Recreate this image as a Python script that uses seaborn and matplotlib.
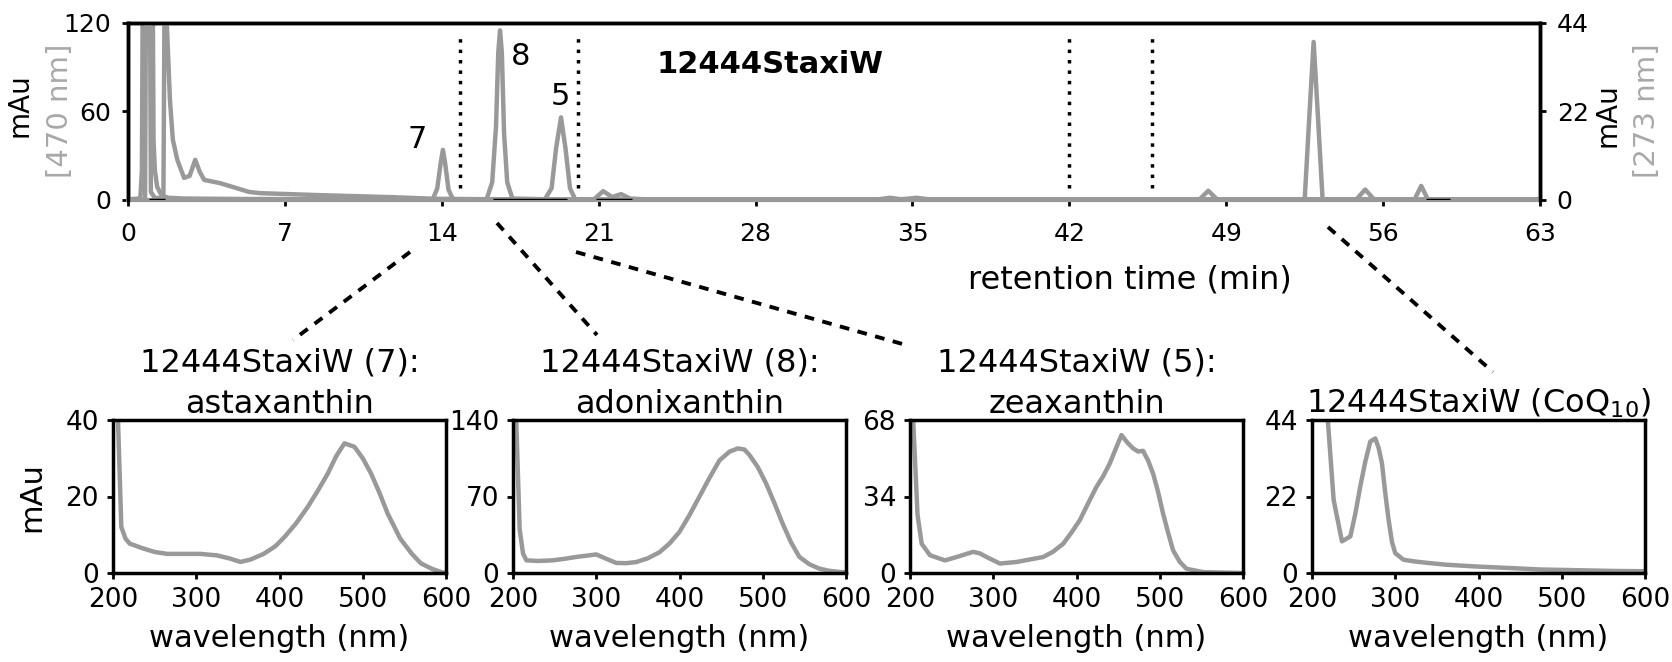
import matplotlib
matplotlib.use("Agg")
import matplotlib.pyplot as plt
import seaborn as sns
import pandas as pd
from matplotlib.lines import Line2D

# ---------------- data ----------------
# chromatogram, 470 nm trace (left axis, mAu)
t470 = [0, 0.55, 0.62, 0.66, 0.85, 1.1, 1.14, 1.2, 1.3, 1.5, 1.8, 2.5, 5, 10,
        13.6, 13.8, 13.95, 14.05, 14.15, 14.3, 14.5,
        16.0, 16.25, 16.42, 16.52, 16.6, 16.68, 16.78, 16.92, 17.15,
        18.6, 18.9, 19.1, 19.32, 19.52, 19.72, 19.95,
        20.8, 21.2, 21.6, 22.0, 22.4, 23, 33.5, 34.0, 34.5, 35.2, 35.7, 40, 63]
a470 = [0.5, 1, 20, 150, 170, 150, 40, 20, 9, 3, 1.5, 1, 0.7, 0.5,
        0.5, 8, 25, 34, 25, 7, 0.5,
        0.5, 12, 50, 100, 115, 100, 45, 12, 1,
        0.5, 8, 35, 56, 35, 8, 0.5,
        0.5, 6, 2, 4, 1, 0.5, 0.5, 1.5, 0.5, 1.5, 0.5, 0.5, 0.5]

# chromatogram, 273 nm trace (right axis, mAu)
t273 = [0, 0.76, 0.8, 0.9, 0.98, 1.02, 1.2, 1.58, 1.64, 1.7, 1.76, 1.87, 2.0, 2.2, 2.5,
        2.75, 3.0, 3.2, 3.4, 4.1, 4.7, 5.4, 5.9, 8.6, 11.8, 13.7, 16, 30,
        47.8, 48.2, 48.6, 52.5, 52.7, 52.9, 53.1, 53.3, 54.8, 55.2, 55.6,
        57.4, 57.7, 58.0, 63]
a273 = [0, 0, 50, 70, 50, 2, 0.5, 0.5, 60, 48, 40, 25, 15, 10, 5.5,
        6, 10, 7, 5, 4.2, 3.2, 2, 1.7, 1.2, 0.7, 0.3, 0.2, 0.1,
        0.1, 2.3, 0.1, 0.1, 20, 39.3, 20, 0.1, 0.1, 2.6, 0.1,
        0.1, 3.5, 0.1, 0.1]

dotted_times = [14.8, 20.1, 42.0, 45.7]
integ_start = [0.95, 16.3, 20.9, 57.9]
integ_end = [1.65, 19.6, 22.5, 59.0]

peak_labels = ["7", "8", "5"]
peak_label_t = [12.9, 17.5, 19.3]
peak_label_y = [40.7, 97, 70]

x_ticks_top = [0, 7, 14, 21, 28, 35, 42, 49, 56, 63]
y_ticks_left = [0, 60, 120]
y_ticks_right = [0, 22, 44]

# UV-Vis spectra
ast_nm = [200, 206, 210, 215, 220, 235, 250, 265, 285, 305, 325, 340, 353, 365, 381, 395,
          406, 420, 434, 446, 458, 468, 478, 490, 500, 510, 520, 530, 545, 559, 570,
          583, 595, 600]
ast_mau = [48, 40, 12, 9, 7.7, 6.5, 5.5, 5, 5, 5, 4.6, 3.8, 2.9, 3.5, 5, 7,
           9.4, 13, 17.3, 21.5, 26, 30.5, 33.9, 33, 30, 26, 21, 15.5, 9, 5, 2.5,
           1.1, 0.2, 0]

adx_nm = [200, 204, 208, 212, 216, 230, 248, 262, 276, 290, 300, 312, 324, 336, 348,
          362, 376, 388, 400, 412, 424, 436, 448, 460, 470, 478, 484, 494, 504, 514,
          524, 534, 544, 556, 568, 580, 592, 600]
adx_mau = [160, 137, 40, 18, 11.6, 11, 11.6, 13, 14.7, 16, 17, 13, 9.2, 9, 10,
           13.5, 19, 27, 37.6, 53, 70, 87, 103, 111, 114, 113, 108, 97, 82, 64,
           45, 28, 14.7, 8, 4, 2, 1, 0.5]

zea_nm = [200, 204, 209, 214, 224, 242, 256, 268, 276, 284, 292, 308, 328, 344, 360,
          372, 384, 394, 404, 414, 424, 432, 440, 448, 454, 461, 468, 474, 480, 486,
          492, 498, 504, 510, 516, 524, 532, 552, 575, 600]
zea_mau = [90, 66.5, 26, 13, 7.9, 5.6, 7.1, 8.5, 9.4, 8.7, 7.1, 4.2, 4.9, 6, 7.1,
           9.5, 13, 18, 23.5, 31, 38.3, 43, 48.7, 56, 61.3, 58, 55.4, 54, 54.3, 50,
           44.2, 36, 26.4, 18, 10.1, 5, 1.9, 0.4, 0.2, 0]

coq_nm = [212, 219, 226, 236, 246, 252, 258, 264, 270, 276, 280, 284, 288, 292, 296,
          300, 310, 324, 339, 360, 395, 440, 475, 520, 560, 600]
coq_mau = [70, 44, 21, 9.1, 10.5, 17, 24.9, 32, 37.8, 38.7, 36, 31.6, 23, 15.3, 9,
           5.7, 3.8, 3.3, 2.9, 2.4, 1.9, 1.4, 1, 0.8, 0.6, 0.5]

spec_titles = ["12444StaxiW (7):\nastaxanthin", "12444StaxiW (8):\nadonixanthin",
               "12444StaxiW (5):\nzeaxanthin", "12444StaxiW (CoQ$_{10}$)"]
spec_ymax = [40, 140, 68, 44]
spec_x = [ast_nm, adx_nm, zea_nm, coq_nm]
spec_y = [ast_mau, adx_mau, zea_mau, coq_mau]
wl_ticks = [200, 300, 400, 500, 600]

# ---------------- style ----------------
sns.set_style("ticks")
plt.rcParams['font.family'] = ['DejaVu Sans']
plt.rcParams['mathtext.fontset'] = 'dejavusans'
for k in ['text.color', 'axes.labelcolor', 'xtick.color', 'ytick.color', 'axes.edgecolor']:
    plt.rcParams[k] = 'black'

GRAY = '#999999'
LGRAY = '#a8a8a8'
W, H = 1672, 662


def fx(px):
    return px / W


def fy(py):
    return 1 - py / H


fig = plt.figure(figsize=(W / 100, H / 100), dpi=100)

# ---------------- top chromatogram ----------------
ax = fig.add_axes([fx(128), fy(200), fx(1540) - fx(128), (200 - 23) / H])
ax2 = ax.twinx()

df470 = pd.DataFrame({"t": t470, "a": a470})
df273 = pd.DataFrame({"t": t273, "a": a273})
sns.lineplot(data=df470, x="t", y="a", ax=ax, color=GRAY, lw=3.2, estimator=None, sort=False)
sns.lineplot(data=df273, x="t", y="a", ax=ax2, color=GRAY, lw=3.2, estimator=None, sort=False)

ax.set_xlim(0, 63)
ax.set_ylim(0, 120)
ax2.set_ylim(0, 44)
ax.set_xticks(x_ticks_top)
ax.set_yticks(y_ticks_left)
ax2.set_yticks(y_ticks_right)
ax.set_xlabel("")
ax.set_ylabel("")
ax2.set_ylabel("")

for t in dotted_times:
    ax.plot([t, t], [8, 113], color='k', lw=2.5, linestyle=(0, (1, 2)), zorder=4)
for s, e in zip(integ_start, integ_end):
    ax2.plot([s, e], [0, 0], color='k', lw=2.5, zorder=5, solid_capstyle='butt')

for lab, t, y in zip(peak_labels, peak_label_t, peak_label_y):
    ax.text(t, y, lab, fontsize=22, ha='center', va='center')
ax.text(28.65, 92, "12444StaxiW", fontsize=22, fontweight='bold', ha='center', va='center')

for a in (ax, ax2):
    for sp in a.spines.values():
        sp.set_linewidth(2.5)
        sp.set_color('k')
ax.spines['bottom'].set_color(GRAY)
ax.spines['bottom'].set_linewidth(3)
ax2.spines['bottom'].set_visible(False)
ax.tick_params(axis='both', direction='out', length=4, width=2, labelsize=18, pad=8)
ax.tick_params(axis='x', pad=12)
ax2.tick_params(axis='y', direction='out', length=4, width=2, labelsize=18, pad=8)

fig.text(fx(20), fy(105), "mAu", rotation=90, fontsize=20, ha='center', va='center')
fig.text(fx(60), fy(111), "[470 nm]", rotation=90, fontsize=21, ha='center', va='center', color=LGRAY)
fig.text(fx(1608), fy(115), "mAu", rotation=90, fontsize=20, ha='center', va='center')
fig.text(fx(1647), fy(111), "[273 nm]", rotation=90, fontsize=21, ha='center', va='center', color=LGRAY)
fig.text(fx(1130), fy(280), "retention time (min)", fontsize=23, ha='center', va='center')

# ---------------- spectra panels ----------------
lefts = [113, 513, 910, 1312]
pw = 333
for i in range(4):
    a = fig.add_axes([fx(lefts[i]), fy(573), pw / W, (573 - 420) / H])
    dfs = pd.DataFrame({"nm": spec_x[i], "mau": spec_y[i]})
    sns.lineplot(data=dfs, x="nm", y="mau", ax=a, color=GRAY, lw=3.2, estimator=None, sort=False)
    a.set_xlim(200, 600)
    a.set_ylim(0, spec_ymax[i])
    a.set_xticks(wl_ticks)
    a.set_yticks([0, spec_ymax[i] / 2, spec_ymax[i]])
    a.set_yticklabels([f"{v:g}" for v in [0, spec_ymax[i] / 2, spec_ymax[i]]])
    a.set_ylabel("")
    a.set_xlabel("wavelength (nm)", fontsize=22, labelpad=8)
    a.set_title(spec_titles[i], fontsize=23, pad=4, linespacing=1.45)
    for sp in a.spines.values():
        sp.set_visible(True)
        sp.set_linewidth(2.5)
        sp.set_color('k')
    a.tick_params(axis='both', direction='out', length=4, width=2, labelsize=19, pad=6)
    if i == 0:
        fig.text(fx(32), fy(497), "mAu", rotation=90, fontsize=22, ha='center', va='center')

# ---------------- connector lines ----------------
conn = [((410, 252), (293, 340)), ((497, 223), (597, 335)),
        ((576, 252), (906, 345)), ((1328, 227), (1493, 372))]
for (x0, y0), (x1, y1) in conn:
    fig.add_artist(Line2D([fx(x0), fx(x1)], [fy(y0), fy(y1)], transform=fig.transFigure,
                          color='k', lw=2.8, linestyle=(0, (2.5, 2.2))))

fig.savefig("out.png", dpi=100)
